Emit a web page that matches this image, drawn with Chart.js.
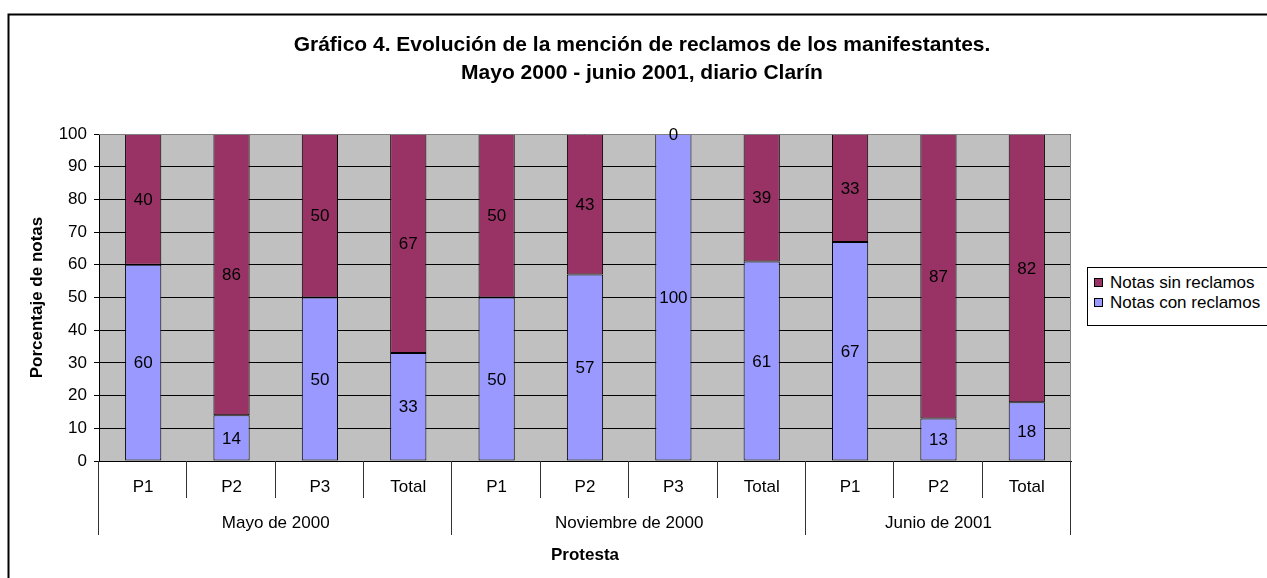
<!DOCTYPE html>
<html>
<head>
<meta charset="utf-8">
<script src="https://cdn.jsdelivr.net/npm/chart.js@4/dist/chart.umd.min.js"></script>
<style>
	html, body { margin: 0; padding: 0; background: #fff; overflow: hidden; }
	#wrap { position: relative; width: 1267px; height: 578px; }
	#legend {
		position: absolute; left: 1087px; top: 267px; width: 220px; height: 47px;
		border: 1px solid #000; background: #fff; padding: 5px 0 5px 6px;
		font: 17px "Liberation Sans", Arial, sans-serif; color: #000;
	}
	#legend div { height: 20px; line-height: 20px; white-space: nowrap; }
	#legend span.box {
		display: inline-block; width: 7px; height: 7px; border: 1px solid #000;
		margin-right: 7px; vertical-align: 1px;
	}
</style>
</head>
<body>
<div id="wrap">
	<canvas id="chart" width="1267" height="578"></canvas>
	<div id="legend"></div>
</div>
<script>
const categories = ["P1", "P2", "P3", "Total", "P1", "P2", "P3", "Total", "P1", "P2", "Total"];
const groups = ["Mayo de 2000", "Noviembre de 2000", "Junio de 2001"];
const groupSizes = [4, 4, 3];
const conReclamos = [60, 14, 50, 33, 50, 57, 100, 61, 67, 13, 18];
const sinReclamos = [40, 86, 50, 67, 50, 43, 0, 39, 33, 87, 82];
const yTicks = [0, 10, 20, 30, 40, 50, 60, 70, 80, 90, 100];

const FONT = '"Liberation Sans", Arial, sans-serif';

/*######################################*
||        Plot frame and labels        ||
*######################################*/

const chartDecor = {
	id: "chartDecor",
	beforeDraw(chart) {
		const { ctx, chartArea: a } = chart;
		ctx.save();
		// outer chart frame
		ctx.strokeStyle = "#000";
		ctx.lineWidth = 2;
		ctx.strokeRect(8.5, 14.5, 2000, 2000);
		// gray plot background
		ctx.fillStyle = "#C0C0C0";
		ctx.fillRect(a.left, a.top, a.right - a.left, a.bottom - a.top);
		ctx.restore();
	},
	afterDraw(chart) {
		const { ctx, chartArea: a } = chart;
		const x = chart.scales.x;
		ctx.save();
		// plot border top / right
		ctx.strokeStyle = "#808080";
		ctx.lineWidth = 1;
		ctx.beginPath();
		ctx.moveTo(a.left, a.top + 0.5);
		ctx.lineTo(a.right - 0.5, a.top + 0.5);
		ctx.lineTo(a.right - 0.5, a.bottom);
		ctx.stroke();

		// category table below the axis
		ctx.strokeStyle = "#333";
		const groupEnds = [0];
		groupSizes.forEach((n) => groupEnds.push(groupEnds[groupEnds.length - 1] + n));
		for (let i = 0; i <= categories.length; i++) {
			const px = Math.round(x.getPixelForValue(i - 0.5)) - 0.5;
			const long = groupEnds.includes(i);
			ctx.beginPath();
			ctx.moveTo(px, a.bottom);
			ctx.lineTo(px, a.bottom + (long ? 74 : 37));
			ctx.stroke();
		}

		// group labels
		ctx.fillStyle = "#000";
		ctx.font = "17px " + FONT;
		ctx.textAlign = "center";
		ctx.textBaseline = "middle";
		groups.forEach((g, k) => {
			const l = x.getPixelForValue(groupEnds[k] - 0.5);
			const r = x.getPixelForValue(groupEnds[k + 1] - 0.5);
			ctx.fillText(g, (l + r) / 2, a.bottom + 62);
		});

		// value labels in the middle of each segment
		chart.data.datasets.forEach((ds, di) => {
			const meta = chart.getDatasetMeta(di);
			meta.data.forEach((bar, i) => {
				ctx.fillText(String(ds.data[i]), bar.x, (bar.y + bar.base) / 2 + 1);
			});
		});
		ctx.restore();
	},
};

new Chart("chart", {
	type: "bar",
	data: {
		labels: categories,
		datasets: [
			{
				label: "Notas con reclamos",
				data: conReclamos,
				backgroundColor: "#9999FF",
				borderColor: "#000",
				borderWidth: 1,
				borderSkipped: false,
				categoryPercentage: 1,
				barPercentage: 0.41,
			},
			{
				label: "Notas sin reclamos",
				data: sinReclamos,
				backgroundColor: "#993366",
				borderColor: "#000",
				borderWidth: 1,
				borderSkipped: false,
				categoryPercentage: 1,
				barPercentage: 0.41,
			},
		],
	},
	options: {
		responsive: false,
		animation: false,
		layout: {
			padding: { left: 17, right: 0, top: 0, bottom: 0 },
		},
		plugins: {
			legend: { display: false },
			tooltip: { enabled: false },
			title: {
				display: true,
				text: [
					"Gráfico 4. Evolución de la mención de reclamos de los manifestantes.",
					"Mayo 2000 - junio 2001, diario Clarín",
				],
				color: "#000",
				font: { family: FONT, size: 21, weight: "bold", lineHeight: "28px" },
				padding: { top: 31, bottom: 47 },
			},
		},
		scales: {
			x: {
				stacked: true,
				offset: true,
				grid: { display: false, drawTicks: false },
				border: { display: true, color: "#000", width: 1 },
				ticks: { color: "#000", font: { family: FONT, size: 17 }, padding: 16 },
				title: {
					display: true,
					text: "Protesta",
					color: "#000",
					font: { family: FONT, size: 17, weight: "bold" },
					padding: { top: 0, bottom: 12 },
				},
				afterFit: (scale) => {
					scale.height = 117;
				},
			},
			y: {
				stacked: true,
				min: 0,
				max: 100,
				afterBuildTicks: (scale) => {
					scale.ticks = yTicks.map((v) => ({ value: v }));
				},
				grid: { color: "#000", lineWidth: 1, tickLength: 5 },
				border: { display: true, color: "#000", width: 1 },
				ticks: { color: "#000", font: { family: FONT, size: 17 }, padding: 7 },
				title: {
					display: true,
					text: "Porcentaje de notas",
					color: "#000",
					font: { family: FONT, size: 17, weight: "bold" },
					padding: { top: 10, bottom: 0 },
				},
				afterFit: (scale) => {
					scale.width = 82;
				},
			},
			// empty right-hand axis keeps room for the legend
			side: {
				type: "linear",
				position: "right",
				grid: { display: false, drawTicks: false },
				border: { display: false },
				ticks: { display: false },
				afterFit: (scale) => {
					scale.width = 196;
				},
			},
		},
	},
	plugins: [chartDecor],
});

// legend in the same order as the stack (top first)
const legendEl = document.getElementById("legend");
const legendData = [
	{ label: "Notas sin reclamos", color: "#993366" },
	{ label: "Notas con reclamos", color: "#9999FF" },
];
legendData.forEach((item) => {
	const row = document.createElement("div");
	const box = document.createElement("span");
	box.className = "box";
	box.style.background = item.color;
	row.appendChild(box);
	row.appendChild(document.createTextNode(item.label));
	legendEl.appendChild(row);
});
</script>
</body>
</html>
